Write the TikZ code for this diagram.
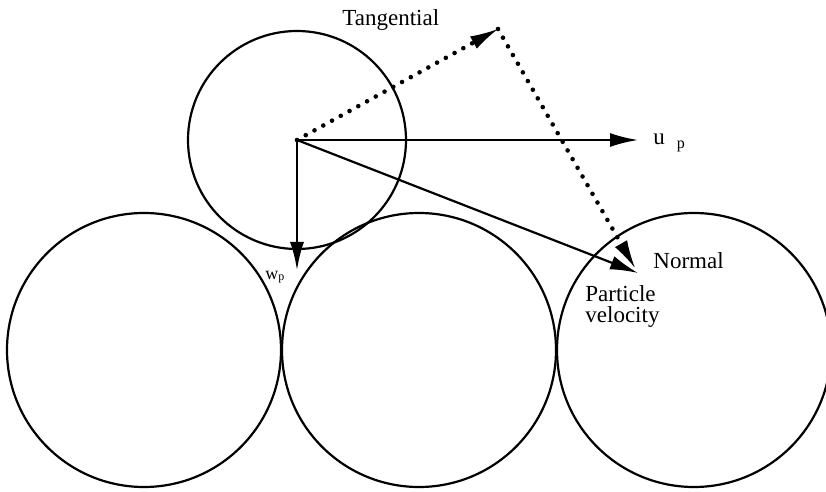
\documentclass[tikz,border=0pt]{standalone}
\usepackage{fontspec}
\setmainfont{Liberation Serif}
\usetikzlibrary{arrows.meta}
\tikzset{
  grain/.style={draw,line width=1.1pt},
  vel/.style={-{Latex[length=14pt,width=7pt]},line width=1.1pt},
  comp/.style={-{Latex[length=14pt,width=7pt,line width=1pt]},line width=2.3pt,line cap=round,dash pattern=on 0pt off 5pt},
  lbl/.style={anchor=base west,inner sep=0pt,font=\fontsize{11.5}{10.5}\selectfont},
  sublbl/.style={lbl,font=\fontsize{9}{10}\selectfont},
}

\begin{document}
\begin{tikzpicture}[x=0.5pt,y=-0.5pt]
  \useasboundingbox (0,0) rectangle (826,492);

  % grains
  \coordinate (ctr) at (297,140);
  \draw[grain] (ctr) circle[radius=109];
  \foreach \gx in {144,419,694}
    \draw[grain] (\gx,350) circle[radius=137];

  % vector tips
  \coordinate (tang) at (498,29);
  \coordinate (up) at (638,140);
  \coordinate (wp) at (297,270);
  \coordinate (norm) at (635,268);
  \coordinate (pv) at (638,273);

  \draw[vel] (ctr) -- (up);
  \draw[vel] (ctr) -- (wp);
  \draw[vel] (ctr) -- (pv);
  \draw[comp] (ctr) -- (tang);
  \draw[comp] (tang) -- (norm);

  % labels
  \node[lbl] (tanglbl) at (342,26) {Tangential};
  \node[lbl] (normlbl) at (653,269) {Normal};
  \node[lbl,anchor=north west,align=left] (pvlbl) at (585,285) {Particle\\velocity};
  \node[lbl] (uplbl) at (653,145) {u\hspace{6pt}\textsubscript{p}};
  \node[sublbl] (wplbl) at (265,279) {w\textsubscript{p}};
\end{tikzpicture}
\end{document}
